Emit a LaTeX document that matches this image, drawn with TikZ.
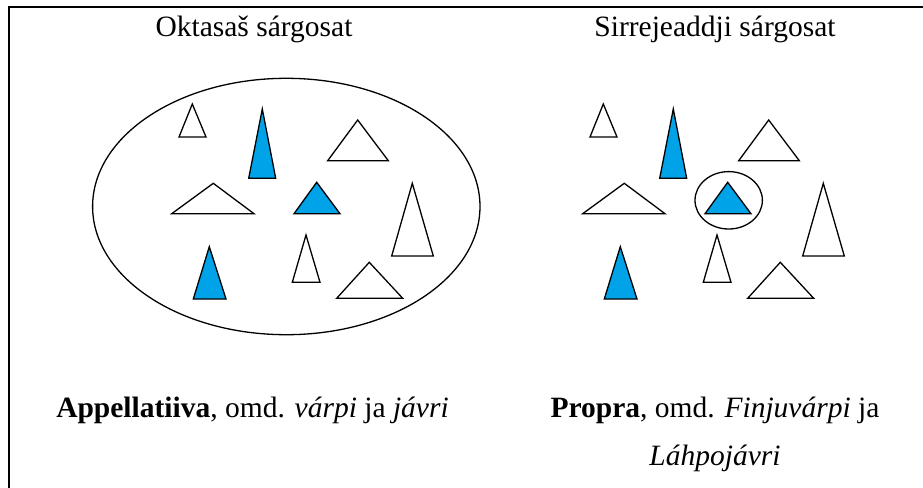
\documentclass[tikz,border=0pt]{standalone}
\usepackage{fontspec}
\setmainfont{Liberation Serif}[
  BoldFont = {Liberation Serif Bold},
  ItalicFont = {Liberation Serif Italic},
  BoldItalicFont = {Liberation Serif Bold Italic}]
\usetikzlibrary{positioning}
\definecolor{triblue}{RGB}{0,162,232}
\tikzset{
    triw/.style = {draw=black, line width=0.65pt, fill=white},
    trib/.style = {draw=black, line width=0.65pt, fill=triblue},
    ring/.style = {draw=black, line width=0.65pt},
    frame/.style = {draw=black, line width=1pt},
    heading/.style = {font=\fontsize{14.75}{24}\selectfont, inner sep=0pt, anchor=base},
    caption/.style = {font=\fontsize{14.75}{24}\selectfont, inner sep=0pt, anchor=base, align=center}
}

\begin{document}
\begin{tikzpicture}[x=0.5pt, y=-0.5pt]
  \useasboundingbox (0,0) rectangle (923,488);
  \draw[frame] (9,488) -- (9,7) -- (923,7);

  \node[heading] (titleL) at (254,36) {Oktasaš sárgosat};
  \node[heading] (titleR) at (715,36) {Sirrejeaddji sárgosat};

  % the same set of triangles on both sides
  \foreach \dx in {0,411} {
    \draw[triw] (\dx+192.3,104)   -- (\dx+179,137)     -- (\dx+206,137)     -- cycle;
    \draw[trib] (\dx+262.3,109)   -- (\dx+248.7,178.3) -- (\dx+275.7,178.3) -- cycle;
    \draw[triw] (\dx+357.7,120)   -- (\dx+327.7,160.7) -- (\dx+388.3,160.7) -- cycle;
    \draw[triw] (\dx+213.3,183.3) -- (\dx+171.7,213.7) -- (\dx+254,213.7)   -- cycle;
    \draw[trib] (\dx+316.7,182.3) -- (\dx+294,213.7)   -- (\dx+340,213.7)   -- cycle;
    \draw[triw] (\dx+412.3,183.3) -- (\dx+391.7,256)   -- (\dx+433.3,256)   -- cycle;
    \draw[trib] (\dx+209.3,246.7) -- (\dx+193.3,299)   -- (\dx+226,299)     -- cycle;
    \draw[triw] (\dx+306,235)     -- (\dx+292.3,282.3) -- (\dx+320,282.3)   -- cycle;
    \draw[triw] (\dx+369.3,262.3) -- (\dx+336.7,298.3) -- (\dx+402.7,298.3) -- cycle;
  }

  \draw[ring] (286.3,206.5) ellipse [x radius=193.7, y radius=128.2];
  \draw[ring] (728.7,200.3) ellipse [x radius=33.7, y radius=28.7];

  \node[caption] (capL) at (252.5,417) {\textbf{Appellatiiva}, omd. \textit{várpi} ja \textit{jávri}};
  % base anchor sits on the last line here
  \node[caption] (capR) at (715,465.5) {\textbf{Propra}, omd. \textit{Finjuvárpi} ja\\ \textit{Láhpojávri}};
\end{tikzpicture}
\end{document}
